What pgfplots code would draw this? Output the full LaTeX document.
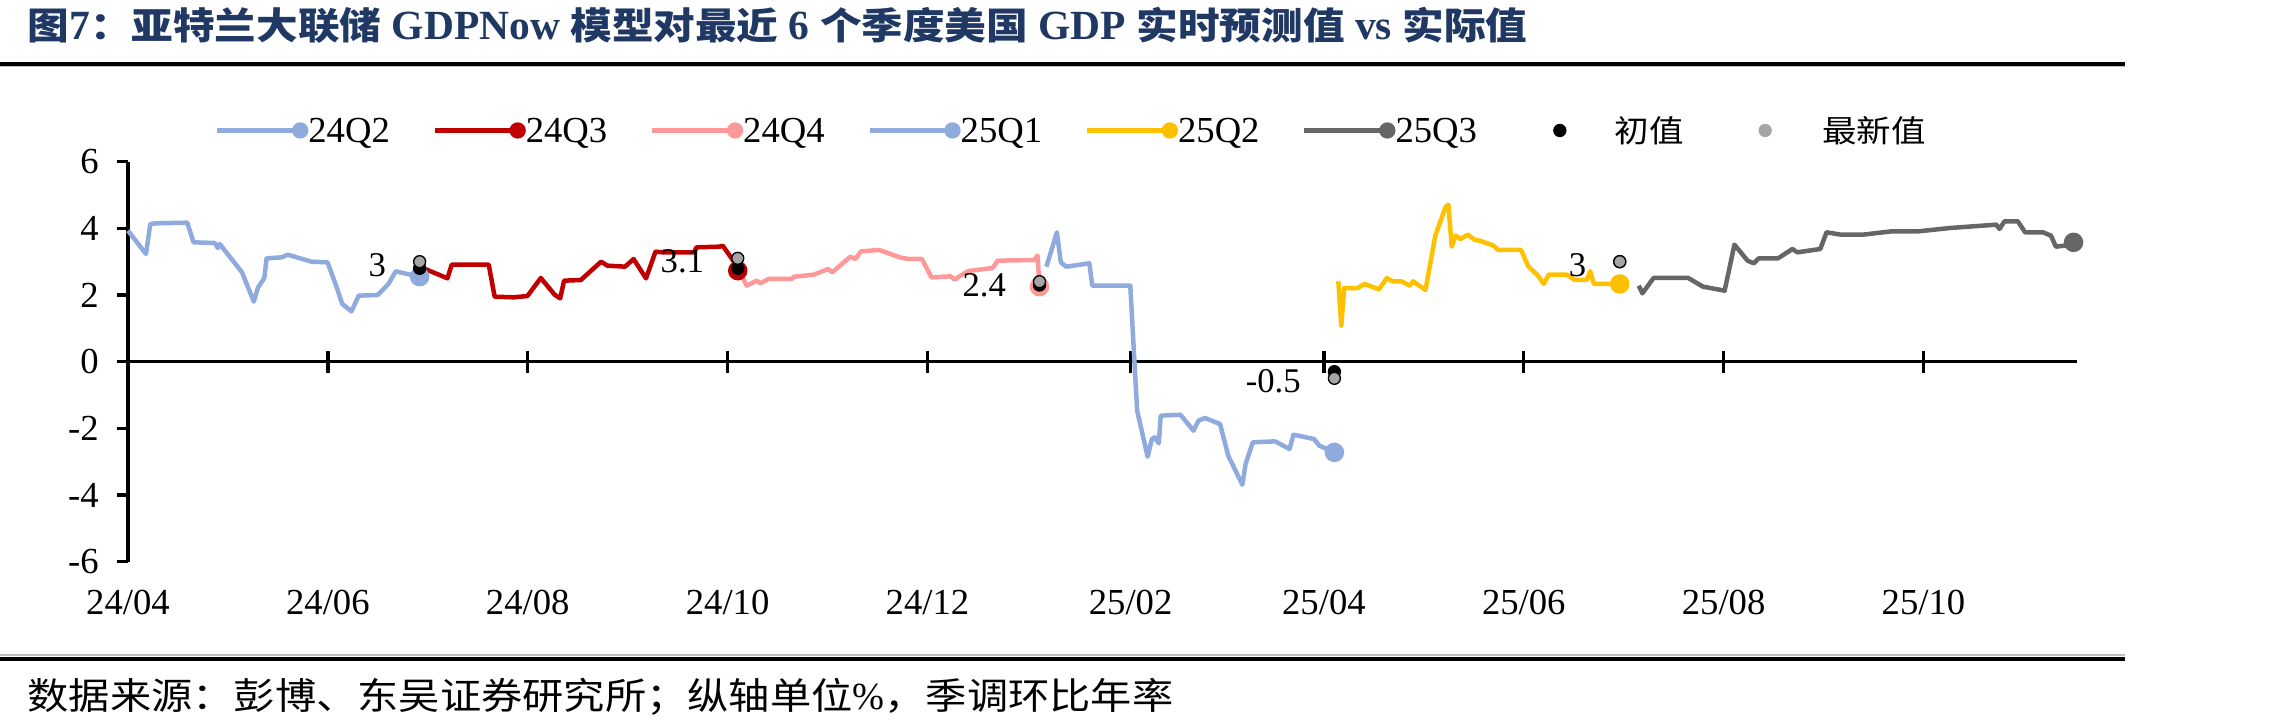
\documentclass[border=0pt]{standalone}
\usepackage{fontspec}
\setmainfont{Liberation Serif}
\newfontfamily\cjk{Noto Sans CJK SC}[FakeStretch=1.12]
\usepackage{pgfplots}
\pgfplotsset{compat=1.18}

\definecolor{qblue}{RGB}{143,170,220}
\definecolor{qred}{RGB}{192,0,0}
\definecolor{qpink}{RGB}{255,153,153}
\definecolor{qgold}{RGB}{255,192,0}
\definecolor{qgray}{RGB}{102,102,102}
\definecolor{latest}{RGB}{166,166,166}
\definecolor{titleblue}{RGB}{31,56,100}

\newcommand\tc[1]{{\cjk\bfseries\fontsize{11.15pt}{13pt}\selectfont #1}}

\pgfplotsset{
  legline/.style={legend image code/.code={
      \draw[line width=1.35pt, #1] (0pt,3.6pt) -- (24.9pt,3.6pt);
      \fill[#1] (24.9pt,3.6pt) circle (2.25pt);
      \path[draw=none, fill=none] (0pt,0pt) -- (27pt,0pt);}},
  legdot/.style n args={3}{legend image code/.code={
      \fill[#1] (#2,3.6pt) circle (1.8pt);
      \path[draw=none, fill=none] (0pt,0pt) -- (#3,0pt);}},
  qseries/.style={#1, line width=1.35pt, line join=round, mark=*, mark size=2.25pt,
      mark options={draw=none, fill=#1}, forget plot},
}

\begin{document}
\begin{tikzpicture}
\useasboundingbox (0,0) rectangle (684pt,218.4pt);

% title and rules
\node[anchor=west, inner sep=0pt, text=titleblue,
      font=\bfseries\fontsize{12.45pt}{14pt}\selectfont] at (8.1pt,210.9pt)
  {\tc{图}7\tc{：亚特兰大联储} GDPNow \tc{模型对最近} 6 \tc{个季度美国} GDP \tc{实时预测值} vs \tc{实际值}};
\fill[black] (0pt,198.69pt) rectangle (637.5pt,199.89pt);
\fill[black!25] (0pt,198.15pt) rectangle (637.5pt,198.6pt);
\fill[black!25] (0pt,21.69pt) rectangle (637.5pt,22.05pt);
\fill[black] (0pt,20.19pt) rectangle (637.5pt,21.39pt);
\node[anchor=west, inner sep=0pt] at (8.1pt,9.4pt)
  {\cjk\fontsize{11.05pt}{12pt}\selectfont 数据来源：彭博、东吴证券研究所；纵轴单位{\rmfamily\fontsize{11.5pt}{12pt}\selectfont\%}，季调环比年率};

\begin{axis}[
  at={(38.4pt,49.89pt)}, anchor=south west,
  scale only axis, width=584.55pt, height=120pt,
  xmin=0, xmax=594.7, ymin=-6, ymax=6,
  axis y line=left, axis x line=middle,
  axis line style={-, line width=1pt, black},
  every inner x axis line/.append style={-},
  every outer y axis line/.append style={-},
  hide obscured x ticks=false, hide obscured y ticks=false,
  xtick={0,61,122,183,244,306,365,426,487,548},
  xticklabels={24/04,24/06,24/08,24/10,24/12,25/02,25/04,25/06,25/08,25/10},
  ytick={-6,-4,-2,0,2,4,6},
  yticklabels={-6,-4,-2,0,2,4,6},
  xtick align=center, ytick align=outside,
  xtick style={/pgfplots/major tick length=6.6pt, line width=1pt, black},
  ytick style={/pgfplots/major tick length=3.3pt, line width=1pt, black},
  tick label style={font=\fontsize{11pt}{13pt}\selectfont},
  xticklabel style={anchor=center, yshift=-70pt},
  yticklabel style={anchor=east, inner sep=0pt, xshift=-4.3pt},
  clip=false,
  legend columns=8,
  legend cell align=left,
  legend style={at={(axis description cs:0.04465,1.07425)}, anchor=west,
    draw=none, fill=none, inner sep=0pt, outer sep=0pt,
    nodes={inner sep=0pt}, cells={anchor=base west},
    /tikz/every even column/.append style={column sep=0pt},
    /tikz/every odd column/.append style={column sep=0pt},
    font=\fontsize{11pt}{13pt}\selectfont},
]

% legend entries
\addlegendimage{legline=qblue}
\addlegendentry{\makebox[37.2pt][l]{24Q2}}
\addlegendimage{legline=qred}
\addlegendentry{\makebox[37.2pt][l]{24Q3}}
\addlegendimage{legline=qpink}
\addlegendentry{\makebox[37.2pt][l]{24Q4}}
\addlegendimage{legline=qblue}
\addlegendentry{\makebox[37.2pt][l]{25Q1}}
\addlegendimage{legline=qgold}
\addlegendentry{\makebox[37.2pt][l]{25Q2}}
\addlegendimage{legline=qgray}
\addlegendentry{\makebox[37.2pt][l]{25Q3}}
\addlegendimage{legdot={black}{12.1pt}{28.5pt}}
\addlegendentry{\makebox[37.2pt][l]{\cjk\fontsize{9.25pt}{11pt}\selectfont 初值}}
\addlegendimage{legdot={latest}{8pt}{25.1pt}}
\addlegendentry{{\cjk\fontsize{9.25pt}{11pt}\selectfont 最新值}}

% 24Q2 nowcast
\addplot[qseries=qblue, mark indices={27}] coordinates {
(0,3.93) (5.5,3.23) (6.8,4.13) (8.5,4.15) (18.1,4.17) (20.0,3.58) (26.5,3.56)
(27.4,3.41) (28.0,3.53) (34.8,2.68) (38.4,1.80) (39.7,2.23) (41.6,2.51) (42.3,3.10)
(47.0,3.13) (48.7,3.21) (56.0,3.00) (60.9,2.98) (63.7,2.23) (65.4,1.73) (68.2,1.51)
(70.4,1.98) (76.2,2.00) (79.5,2.33) (81.7,2.71) (86.2,2.61) (89.0,2.55)};

% 24Q3 nowcast
\addplot[qseries=qred, mark indices={25}] coordinates {
(89.0,2.85) (97.5,2.50) (98.8,2.91) (110.1,2.91) (111.9,1.95) (117.7,1.93) (121.9,1.97)
(126.0,2.51) (130.2,2.01) (131.9,1.90) (133.1,2.43) (138.2,2.45) (144.4,3.00) (146.3,2.88)
(151.7,2.85) (154.3,3.08) (158.1,2.50) (161.0,3.30) (163.3,3.28) (172.8,3.28) (173.5,3.43)
(180.6,3.45) (181.5,3.48) (185.1,2.98) (186.1,2.73)};

% 24Q4 nowcast
\addplot[qseries=qpink, mark indices={27}] coordinates {
(186.3,2.78) (188.8,2.28) (191.9,2.43) (193.1,2.35) (195.4,2.48) (202.5,2.48) (203.4,2.55)
(209.3,2.61) (213.7,2.78) (214.9,2.68) (220.5,3.15) (222.0,3.08) (223.7,3.31) (229.3,3.35)
(235.5,3.13) (238.2,3.08) (242.3,3.08) (245.2,2.53) (251.1,2.56) (252.3,2.46) (253.3,2.53)
(256.5,2.72) (263.9,2.81) (265.4,3.03) (276.6,3.05) (277.6,3.18) (278.2,2.25)};

% 25Q1 nowcast
\addplot[qseries=qblue, mark indices={28}] coordinates {
(280.3,2.85) (283.5,3.88) (284.7,2.98) (286.3,2.85) (293.4,2.95) (294.3,2.28) (305.9,2.28)
(308.0,-1.47) (311.2,-2.85) (312.5,-2.32) (313.4,-2.27) (314.6,-2.45) (315.2,-1.62) (321.2,-1.59)
(325.2,-2.07) (326.7,-1.77) (328.7,-1.69) (333.3,-1.87) (335.8,-2.82) (340.1,-3.69) (341.1,-3.07)
(343.3,-2.42) (350.1,-2.39) (354.5,-2.62) (355.7,-2.19) (362.0,-2.32) (363.6,-2.52) (368.2,-2.72)};

% 25Q2 nowcast
\addplot[qseries=qgold, mark indices={34}] coordinates {
(369.4,2.41) (370.3,1.08) (371.2,2.21) (375.3,2.21) (377.4,2.33) (381.8,2.17) (384.2,2.51)
(386.0,2.41) (388.7,2.41) (391.2,2.28) (392.2,2.41) (396.0,2.15) (399.0,3.78) (402.0,4.61)
(403.0,4.71) (404.0,3.45) (405.2,3.78) (406.7,3.68) (408.9,3.81) (411.1,3.65) (412.6,3.63)
(416.8,3.48) (418.2,3.35) (425.2,3.35) (427.4,2.85) (430.1,2.61) (432.1,2.33) (433.6,2.61)
(439.2,2.61) (441.5,2.45) (445.2,2.45) (446.3,2.71) (447.4,2.33) (455.3,2.33)};

% 25Q3 nowcast
\addplot[qseries=qgray, mark indices={30}] coordinates {
(461.1,2.28) (462.2,2.05) (465.6,2.51) (476.2,2.51) (480.7,2.25) (487.3,2.13) (490.3,3.51)
(494.3,3.03) (496.2,2.95) (497.7,3.10) (503.6,3.10) (508.0,3.38) (509.5,3.28) (516.5,3.38)
(518.4,3.88) (522.8,3.81) (529.5,3.81) (538.3,3.91) (546.5,3.91) (556.1,4.01) (570.2,4.11)
(571.2,3.98) (572.7,4.21) (576.8,4.21) (579.0,3.88) (584.5,3.88) (586.9,3.78) (588.4,3.45)
(590.9,3.48) (593.8,3.58)};

% advance (first) estimates
\addplot[only marks, mark=*, mark size=1.8pt, mark options={draw=none, fill=black}, forget plot]
coordinates {(89.0,2.8) (186.1,2.8) (278.2,2.3) (368.2,-0.3) (455.3,3.0)};

% latest estimates, labelled
\addplot[only marks, mark=*, mark size=1.8pt, mark options={draw=none, fill=latest}, forget plot,
  nodes near coords, point meta=explicit symbolic,
  every node near coord/.append style={anchor=east, inner sep=0pt, xshift=-9.9pt, yshift=-1pt,
    text=black, font=\fontsize{10.4pt}{12pt}\selectfont}]
coordinates {(89.0,3.0)[3] (186.1,3.1)[3.1] (278.2,2.4)[2.4] (368.2,-0.5)[-0.5] (455.3,3.0)[3]};

\end{axis}
\end{tikzpicture}
\end{document}
